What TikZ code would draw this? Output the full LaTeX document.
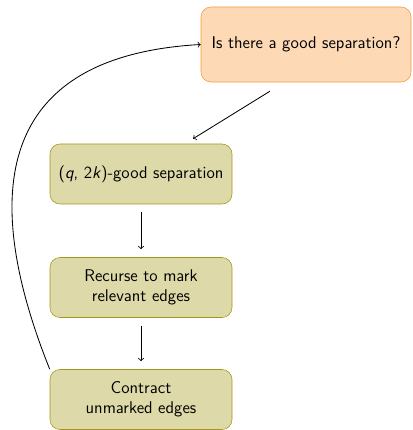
\documentclass[tikz,border=0pt]{standalone}
\usetikzlibrary{arrows}
\definecolor{qfill}{RGB}{253,217,181}
\definecolor{qline}{RGB}{247,150,60}
\definecolor{stepfill}{RGB}{222,217,168}
\definecolor{stepline}{RGB}{165,150,20}
\begin{document}
\begin{tikzpicture}[font=\sffamily\fontsize{12.1}{14.3}\selectfont,
    question/.style={draw=qline,fill=qfill,rounded corners=0.25cm,
        minimum width=5.25cm,minimum height=1.875cm,align=center},
    stepbox/.style={draw=stepline,fill=stepfill,rounded corners=0.25cm,
        minimum width=4.55cm,minimum height=1.5cm,align=center},
    link/.style={->,semithick,shorten <=0.2cm,shorten >=0.2cm}]
\useasboundingbox (0,0) rectangle (10.3,10.75);
    \node[question] (q) at (7.65,9.6375) {Is there a good separation?};
    \node[stepbox] (good) at (3.525,6.4) {(\textit{q}, 2\textit{k})-good separation};
    \node[stepbox] (mark) at (3.525,3.5625) {Recurse to mark\\relevant edges};
    \node[stepbox] (contract) at (3.525,0.7625) {Contract\\unmarked edges};
    % arrows between the steps
    \draw[->,semithick,shorten <=0.425cm,shorten >=0.236cm] ([xshift=-0.54cm]q.south) -- ([xshift=1.1cm]good.north);
    \draw[link] (good) -- (mark);
    \draw[link] (mark) -- (contract);
    % back to the question
    \draw[->,semithick] (contract.north west) .. controls (-0.75,6.5) and (0.375,9.375) .. (q.west);
\end{tikzpicture}
\end{document}
